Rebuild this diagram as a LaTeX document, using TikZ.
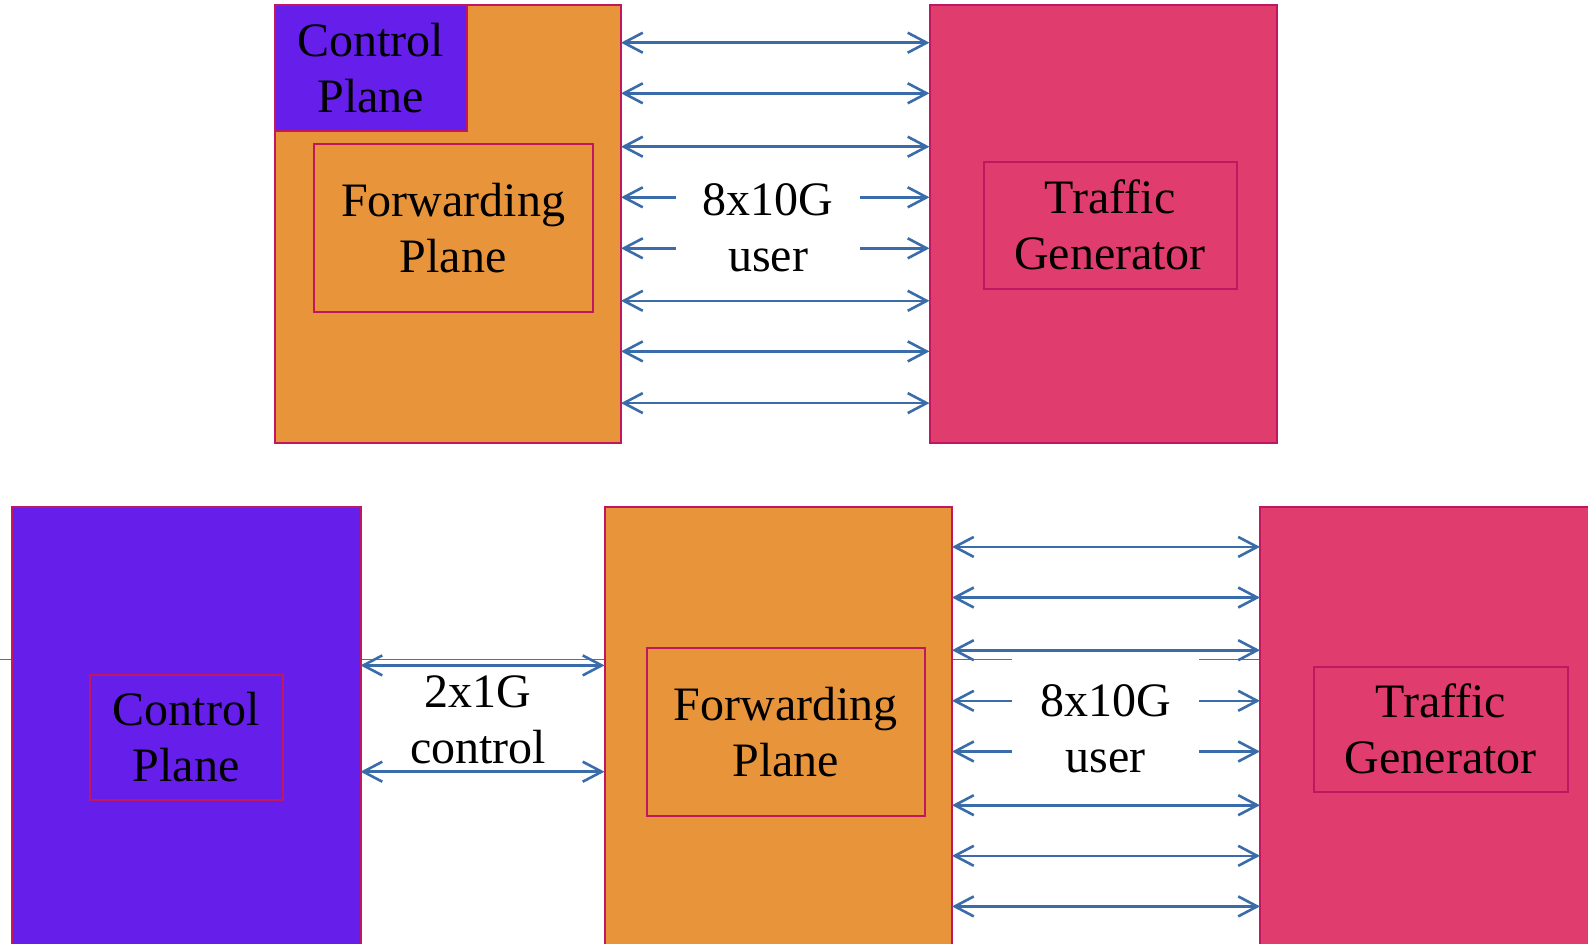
\documentclass[tikz,border=0pt]{standalone}
\usepackage{fontspec}
\setmainfont{Liberation Serif}
\usetikzlibrary{arrows.meta}
\definecolor{fwdorange}{RGB}{232,148,58}
\definecolor{ctlpurple}{RGB}{102,30,234}
\definecolor{tgpink}{RGB}{224,60,110}
\definecolor{boxedge}{RGB}{192,24,96}
\definecolor{linkblue}{RGB}{58,108,170}
\definecolor{guide}{RGB}{130,90,150}
\tikzset{
  block/.style={draw=boxedge, line width=2pt, inner sep=0pt, outer sep=0pt, anchor=center},
  inner/.style={block, align=center, font=\fontsize{48}{56}\selectfont},
  lbl/.style={inner sep=0pt, outer sep=0pt, align=center, font=\fontsize{48}{56}\selectfont},
  barb/.tip={Straight Barb[length=19pt,width=20pt]},
  link/.style={draw=linkblue, line width=2.6pt, barb-barb},
  halflink/.style={draw=linkblue, line width=2.6pt, -barb},
}
\begin{document}
\begin{tikzpicture}[x=1pt,y=-1pt]
\useasboundingbox (0,0) rectangle (1588,943);
% faint guide line behind the lower row
\draw[guide, line width=1pt] (0,659) -- (1588,659);

% ---------- upper row: combined router ----------
\node[block, fill=fwdorange, minimum width=346.5, minimum height=437.5] (tfp) at (447.75,223.75) {};
\node[inner, fill=ctlpurple, minimum width=192.5, minimum height=126] (tcp) at (370.75,68) {Control\\Plane};
\node[inner, fill=fwdorange, minimum width=278.5, minimum height=168] (tfwd) at (453.25,228) {Forwarding\\Plane};
\node[block, fill=tgpink, minimum width=347.5, minimum height=437.5] (ttg) at (1103.25,223.75) {};
\node[inner, fill=tgpink, minimum width=253, minimum height=126.5] (ttgi) at (1110,225.25) {Traffic\\Generator};
\node[lbl, fill=white, minimum width=184, minimum height=110] (tlab) at (768,228) {8x10G\\user};

\foreach \yy in {42.7,93.3,146.7,300.8,351.4,403.1}
  \draw[link] (tfp.east |- 0,\yy) -- (ttg.west |- 0,\yy);
\foreach \yy in {197.3,248.3}{
  \draw[halflink] (tlab.west |- 0,\yy) -- (tfp.east |- 0,\yy);
  \draw[halflink] (tlab.east |- 0,\yy) -- (ttg.west |- 0,\yy);
}

% ---------- lower row: separated planes ----------
\node[block, fill=ctlpurple, minimum width=348.5, minimum height=453.5] (bcp) at (186.25,733.25) {};
\node[inner, fill=ctlpurple, minimum width=192.5, minimum height=125.5] (bcpi) at (186.25,737.25) {Control\\Plane};
\node[block, fill=fwdorange, minimum width=347.5, minimum height=453.5] (bfp) at (778.25,733.25) {};
\node[inner, fill=fwdorange, minimum width=277.5, minimum height=168] (bfpi) at (785.75,732) {Forwarding\\Plane};
\node[block, fill=tgpink, minimum width=350, minimum height=453.5] (btg) at (1435,733.25) {};
\node[inner, fill=tgpink, minimum width=254.5, minimum height=125.5] (btgi) at (1440.75,729.25) {Traffic\\Generator};

\node[lbl] (clab) at (478,720) {2x1G\\control};
\foreach \yy in {665.4,771.7}
  \draw[link] (bcp.east |- 0,\yy) -- (bfp.west |- 0,\yy);

\node[lbl, fill=white, minimum width=187, minimum height=150] (blab) at (1105.5,729) {8x10G\\user};
\foreach \yy in {546.9,597.5,650.2,805.2,855.8,906.4}
  \draw[link] (bfp.east |- 0,\yy) -- (btg.west |- 0,\yy);
\foreach \yy in {700.8,751.5}{
  \draw[halflink] (blab.west |- 0,\yy) -- (bfp.east |- 0,\yy);
  \draw[halflink] (blab.east |- 0,\yy) -- (btg.west |- 0,\yy);
}
\end{tikzpicture}
\end{document}
